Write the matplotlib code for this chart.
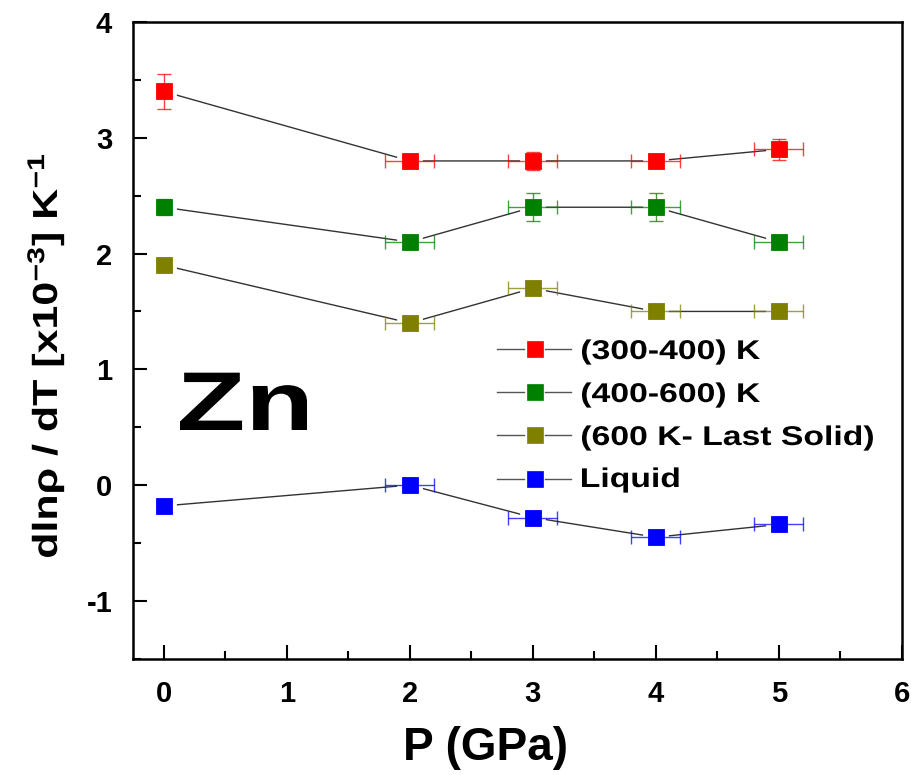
import matplotlib
matplotlib.use("Agg")
import numpy as np
import matplotlib.pyplot as plt
from matplotlib.ticker import MultipleLocator
from matplotlib.textpath import TextPath
from matplotlib.patches import PathPatch
from matplotlib.font_manager import FontProperties
from matplotlib.transforms import Affine2D

plt.rcParams['font.family'] = ['Liberation Sans', 'DejaVu Sans']
plt.rcParams['font.weight'] = 'bold'
plt.rcParams['axes.labelweight'] = 'bold'
plt.rcParams['axes.unicode_minus'] = False
plt.rcParams['mathtext.fontset'] = 'custom'
plt.rcParams['mathtext.rm'] = 'Liberation Sans:bold'
plt.rcParams['mathtext.bf'] = 'Liberation Sans:bold'
plt.rcParams['mathtext.default'] = 'bf'

# Pressure points (GPa)
pressure = [0, 2, 3, 4, 5]

labels = ["(300-400) K", "(400-600) K", "(600 K- Last Solid)", "Liquid"]
colors = ["#ff0000", "#008000", "#808000", "#0000ff"]

# dln(rho)/dT values (x10^-3 K^-1)
y_300_400 = [3.40, 2.80, 2.80, 2.80, 2.90]
y_400_600 = [2.40, 2.10, 2.40, 2.40, 2.10]
y_600_solid = [1.90, 1.40, 1.70, 1.50, 1.50]
y_liquid = [-0.18, 0.00, -0.28, -0.45, -0.34]

# vertical uncertainties
yerr_300_400 = [0.15, 0.05, 0.08, 0.03, 0.09]
yerr_400_600 = [0.07, 0.04, 0.12, 0.12, 0.03]
yerr_600_solid = [0.0, 0.0, 0.0, 0.0, 0.0]
yerr_liquid = [0.0, 0.03, 0.03, 0.05, 0.03]

# pressure uncertainties
xerr_p = [0.0, 0.2, 0.2, 0.2, 0.2]

series = [
    (y_300_400, yerr_300_400),
    (y_400_600, yerr_400_600),
    (y_600_solid, yerr_600_solid),
    (y_liquid, yerr_liquid),
]

DPI = 100
W, H = 911, 775
fig = plt.figure(figsize=(W / DPI, H / DPI), dpi=DPI)
ax = fig.add_axes([0.146, 0.150, 0.844, 0.8216])

for (yv, ye), col in zip(series, colors):
    # connecting line; white-rimmed markers open a small gap around each point
    ax.plot(pressure, yv, color='#333333', lw=1.0, marker='s', ms=11,
            mfc='white', mec='white', mew=7, zorder=2)
    ax.errorbar(pressure, yv, yerr=ye, xerr=xerr_p, fmt='none', ecolor=col,
                elinewidth=1.0, capsize=5, capthick=1.0, alpha=0.75, zorder=3)
    ax.plot(pressure, yv, ls='none', marker='s', ms=11, mfc=col, mec=col,
            mew=0.6, zorder=4)

ax.set_xlim(-0.25, 6)
ax.set_ylim(-1.5, 4)
ax.xaxis.set_major_locator(MultipleLocator(1))
ax.xaxis.set_minor_locator(MultipleLocator(0.5))
ax.yaxis.set_major_locator(MultipleLocator(1))
ax.yaxis.set_minor_locator(MultipleLocator(0.5))
ax.tick_params(which='major', direction='in', length=10, width=1.5,
               labelsize=21, pad=15)
ax.tick_params(which='minor', direction='in', length=5.5, width=1.5)
for s in ax.spines.values():
    s.set_linewidth(1.8)

ax.set_xlabel("P (GPa)", fontsize=33)
ax.xaxis.set_label_coords(0.459, -0.105)

# overlay in pixel coordinates (origin top-left) for annotations and legend
ov = fig.add_axes([0, 0, 1, 1])
ov.set_xlim(0, W)
ov.set_ylim(H, 0)
ov.axis('off')

FP = FontProperties(family='Liberation Sans', weight='bold')


def wide_text(x, y, s, size, width_px=None, stretch=1.0, rotation=0,
              color='black'):
    """Bold text drawn as a path, optionally widened along its direction.
    (x, y) is the ink start on the baseline, in overlay pixels."""
    tp = TextPath((0, 0), s, size=size, prop=FP)
    bb = tp.get_extents()
    k = DPI / 72.0
    if width_px is not None:
        stretch = width_px / (bb.width * k)
    su, sv = stretch * k, k
    if rotation == 90:
        m = [[0, -sv, x], [-su, 0, y], [0, 0, 1]]
    else:
        m = [[su, 0, x], [0, -sv, y], [0, 0, 1]]
    tr = Affine2D().translate(-bb.x0, 0) + Affine2D(np.array(m, float))
    ov.add_patch(PathPatch(tp, transform=tr + ov.transData, fc=color,
                           ec='none', lw=0, clip_on=False))
    return stretch


# y-axis title, reading bottom to top
wide_text(57, 557, "dlnρ / dT [x10$^{-3}$] K$^{-1}$", size=25,
          width_px=402, rotation=90)

# sample label
wide_text(180, 430, "Zn", size=60, width_px=127)

# legend
leg_marker_y = [348.5, 391.5, 434.5, 478.5]
leg_text_base = [359, 402, 445, 487]
st = None
for lab, col, ym, yb in zip(labels, colors, leg_marker_y, leg_text_base):
    ov.plot([497, 524], [ym, ym], color='#555555', lw=1.0)
    ov.plot([545, 571], [ym, ym], color='#555555', lw=1.0)
    ov.plot([534.5], [ym], ls='none', marker='s', ms=11, mfc=col, mec=col,
            mew=0.5)
    if st is None:
        st = wide_text(582, yb, lab, size=19.5, width_px=178)
    else:
        wide_text(582, yb, lab, size=19.5, stretch=st)

fig.savefig("out.png", dpi=DPI)
